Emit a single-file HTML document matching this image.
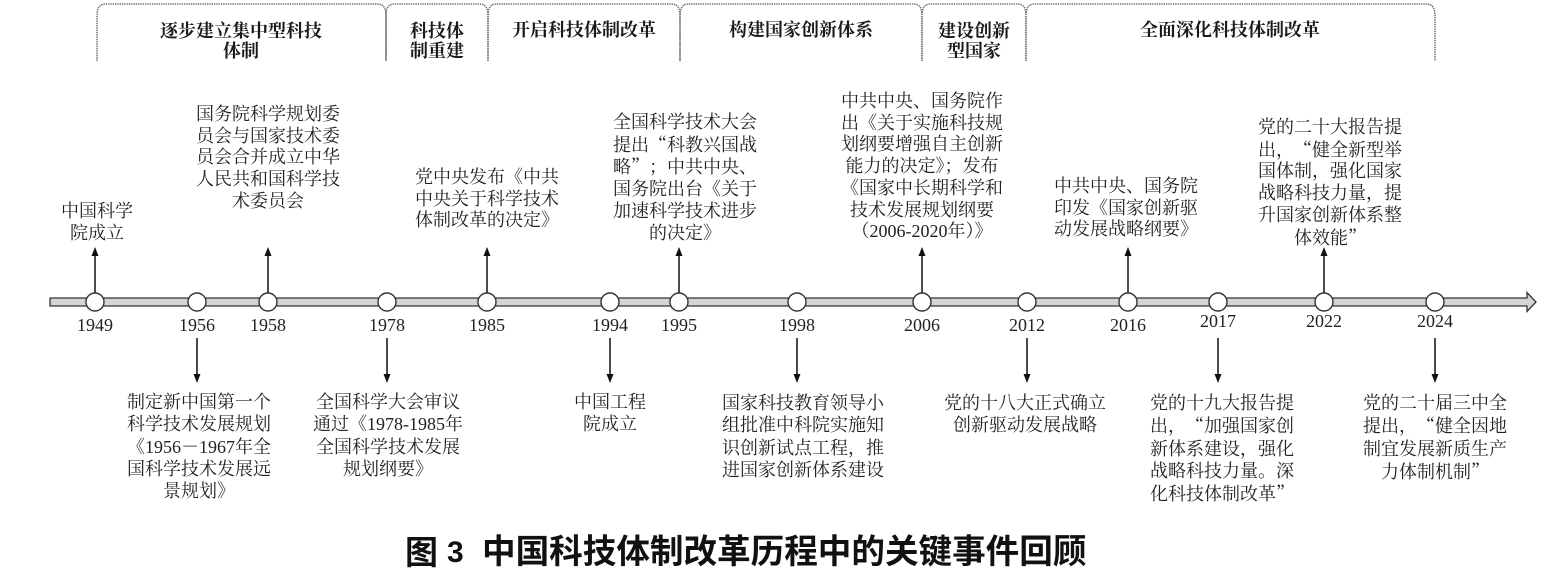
<!DOCTYPE html>
<html><head><meta charset="utf-8">
<style>
html,body{margin:0;padding:0;background:#fff;}
#c{position:relative;width:1552px;height:580px;overflow:hidden;background:#fff;}
svg{position:absolute;left:0;top:0;}
.t{position:absolute;width:240px;text-align:center;white-space:nowrap;font-family:"Liberation Serif","Noto Serif CJK SC",serif;font-size:18px;color:#222;}
.tt{line-height:21.7px;}
.tb{line-height:22.3px;}
.h{position:absolute;width:300px;text-align:center;white-space:nowrap;font-family:"Liberation Serif","Noto Serif CJK SC",serif;font-size:18px;font-weight:bold;color:#1a1a1a;line-height:19.5px;}
.y{position:absolute;width:60px;text-align:center;font-family:"Liberation Serif",serif;font-size:18px;color:#222;line-height:20px;}
.ql,.qr{font-family:"Noto Serif CJK SC",serif;display:inline-block;width:18px;}
.ql{text-align:right;}
.qr{text-align:left;}
.cap{position:absolute;font-family:"Liberation Sans","Noto Sans CJK SC",sans-serif;font-weight:bold;color:#111;white-space:nowrap;line-height:36px;}
</style></head>
<body><div id="c">
<svg width="1552" height="580" viewBox="0 0 1552 580">
  <g fill="none" stroke="#5a5a5a" stroke-width="1.3" stroke-dasharray="1.4 0.9">
    <path d="M97,61 L97,17 C97,8 99,4 106,4 L377,4 C384,4 386,8 386,17 L386,61"/>
    <path d="M386,61 L386,17 C386,8 388,4 395,4 L479,4 C486,4 488,8 488,17 L488,61"/>
    <path d="M488,61 L488,17 C488,8 490,4 497,4 L671,4 C678,4 680,8 680,17 L680,61"/>
    <path d="M680,61 L680,17 C680,8 682,4 689,4 L913,4 C920,4 922,8 922,17 L922,61"/>
    <path d="M922,61 L922,17 C922,8 924,4 931,4 L1017,4 C1024,4 1026,8 1026,17 L1026,61"/>
    <path d="M1026,61 L1026,17 C1026,8 1028,4 1035,4 L1426,4 C1433,4 1435,8 1435,17 L1435,61"/>
  </g>
  <path d="M50,298 L1527,298 L1527,292.5 L1536,302 L1527,311.5 L1527,306 L50,306 Z" fill="#d4d4d4" stroke="#333" stroke-width="1.3" stroke-linejoin="miter"/>
  <g stroke="#111" stroke-width="1.5">
    <line x1="95" y1="293" x2="95" y2="254"/>
    <line x1="268" y1="293" x2="268" y2="254"/>
    <line x1="487" y1="293" x2="487" y2="254"/>
    <line x1="679" y1="293" x2="679" y2="254"/>
    <line x1="922" y1="293" x2="922" y2="254"/>
    <line x1="1128" y1="293" x2="1128" y2="254"/>
    <line x1="1324" y1="293" x2="1324" y2="254"/>
    <line x1="197" y1="338" x2="197" y2="376"/>
    <line x1="387" y1="338" x2="387" y2="376"/>
    <line x1="610" y1="338" x2="610" y2="376"/>
    <line x1="797" y1="338" x2="797" y2="376"/>
    <line x1="1027" y1="338" x2="1027" y2="376"/>
    <line x1="1218" y1="338" x2="1218" y2="376"/>
    <line x1="1435" y1="338" x2="1435" y2="376"/>
  </g>
  <g fill="#111">
    <path d="M91.5,256 L98.5,256 L95,247 Z"/>
    <path d="M264.5,256 L271.5,256 L268,247 Z"/>
    <path d="M483.5,256 L490.5,256 L487,247 Z"/>
    <path d="M675.5,256 L682.5,256 L679,247 Z"/>
    <path d="M918.5,256 L925.5,256 L922,247 Z"/>
    <path d="M1124.5,256 L1131.5,256 L1128,247 Z"/>
    <path d="M1320.5,256 L1327.5,256 L1324,247 Z"/>
    <path d="M193.5,374 L200.5,374 L197,383 Z"/>
    <path d="M383.5,374 L390.5,374 L387,383 Z"/>
    <path d="M606.5,374 L613.5,374 L610,383 Z"/>
    <path d="M793.5,374 L800.5,374 L797,383 Z"/>
    <path d="M1023.5,374 L1030.5,374 L1027,383 Z"/>
    <path d="M1214.5,374 L1221.5,374 L1218,383 Z"/>
    <path d="M1431.5,374 L1438.5,374 L1435,383 Z"/>
  </g>
  <g fill="#fff" stroke="#333" stroke-width="1.4">
    <circle cx="95" cy="302" r="9"/>
    <circle cx="197" cy="302" r="9"/>
    <circle cx="268" cy="302" r="9"/>
    <circle cx="387" cy="302" r="9"/>
    <circle cx="487" cy="302" r="9"/>
    <circle cx="610" cy="302" r="9"/>
    <circle cx="679" cy="302" r="9"/>
    <circle cx="797" cy="302" r="9"/>
    <circle cx="922" cy="302" r="9"/>
    <circle cx="1027" cy="302" r="9"/>
    <circle cx="1128" cy="302" r="9"/>
    <circle cx="1218" cy="302" r="9"/>
    <circle cx="1324" cy="302" r="9"/>
    <circle cx="1435" cy="302" r="9"/>
  </g>
</svg>

<div class="h" style="left:91px;top:22px;">逐步建立集中型科技<br>体制</div>
<div class="h" style="left:287px;top:22px;">科技体<br>制重建</div>
<div class="h" style="left:434px;top:21px;">开启科技体制改革</div>
<div class="h" style="left:651px;top:21px;">构建国家创新体系</div>
<div class="h" style="left:824px;top:22px;">建设创新<br>型国家</div>
<div class="h" style="left:1080px;top:21px;">全面深化科技体制改革</div>

<div class="y" style="left:65px;top:315px;">1949</div>
<div class="y" style="left:167px;top:315px;">1956</div>
<div class="y" style="left:238px;top:315px;">1958</div>
<div class="y" style="left:357px;top:315px;">1978</div>
<div class="y" style="left:457px;top:315px;">1985</div>
<div class="y" style="left:580px;top:315px;">1994</div>
<div class="y" style="left:649px;top:315px;">1995</div>
<div class="y" style="left:767px;top:315px;">1998</div>
<div class="y" style="left:892px;top:315px;">2006</div>
<div class="y" style="left:997px;top:315px;">2012</div>
<div class="y" style="left:1098px;top:315px;">2016</div>
<div class="y" style="left:1188px;top:311px;">2017</div>
<div class="y" style="left:1294px;top:311px;">2022</div>
<div class="y" style="left:1405px;top:311px;">2024</div>

<div class="t tt" style="left:-23px;top:201px;">中国科学<br>院成立</div>
<div class="t tt" style="left:148px;top:104px;">国务院科学规划委<br>员会与国家技术委<br>员会合并成立中华<br>人民共和国科学技<br>术委员会</div>
<div class="t tt" style="left:367px;top:167px;">党中央发布《中共<br>中央关于科学技术<br>体制改革的决定》</div>
<div class="t tt" style="left:565px;top:112px;">全国科学技术大会<br>提出<span class="ql">“</span>科教兴国战<br>略<span class="qr">”</span>；中共中央、<br>国务院出台《关于<br>加速科学技术进步<br>的决定》</div>
<div class="t tt" style="left:802px;top:91px;">中共中央、国务院作<br>出《关于实施科技规<br>划纲要增强自主创新<br>能力的决定》；发布<br>《国家中长期科学和<br>技术发展规划纲要<br>（2006-2020年）》</div>
<div class="t tt" style="left:1006px;top:176px;">中共中央、国务院<br>印发《国家创新驱<br>动发展战略纲要》</div>
<div class="t tt" style="left:1210px;top:117px;">党的二十大报告提<br>出，<span class="ql">“</span>健全新型举<br>国体制，强化国家<br>战略科技力量，提<br>升国家创新体系整<br>体效能<span class="qr">”</span></div>

<div class="t tb" style="left:79px;top:391px;">制定新中国第一个<br>科学技术发展规划<br>《1956－1967年全<br>国科学技术发展远<br>景规划》</div>
<div class="t tb" style="left:268px;top:391px;">全国科学大会审议<br>通过《1978-1985年<br>全国科学技术发展<br>规划纲要》</div>
<div class="t tb" style="left:490px;top:391px;">中国工程<br>院成立</div>
<div class="t tb" style="left:683px;top:392px;">国家科技教育领导小<br>组批准中科院实施知<br>识创新试点工程，推<br>进国家创新体系建设</div>
<div class="t tb" style="left:905px;top:392px;">党的十八大正式确立<br>创新驱动发展战略</div>
<div class="t tb" style="left:1102px;top:392px;">党的十九大报告提<br>出，<span class="ql">“</span>加强国家创<br>新体系建设，强化<br>战略科技力量。深<br>化科技体制改革<span class="qr">”</span></div>
<div class="t tb" style="left:1315px;top:392px;">党的二十届三中全<br>提出，<span class="ql">“</span>健全因地<br>制宜发展新质生产<br>力体制机制<span class="qr">”</span></div>

<div class="cap" style="left:405px;top:535px;font-size:33px;">图</div>
<div class="cap" style="left:447px;top:535px;font-size:30px;">3</div>
<div class="cap" style="left:482px;top:535px;font-size:33.6px;">中国科技体制改革历程中的关键事件回顾</div>
</div></body></html>
